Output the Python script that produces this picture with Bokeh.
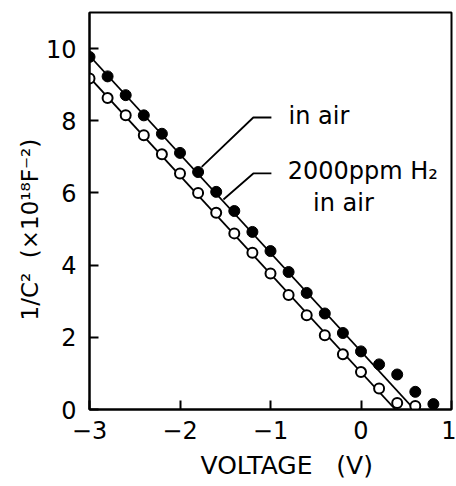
from bokeh.plotting import figure
from bokeh.models import Range1d, FixedTicker, Label, Title
from bokeh.embed import file_html
from bokeh.resources import INLINE

# ---- data ----
voltage_air = [-3.0, -2.8, -2.6, -2.4, -2.2, -2.0, -1.8, -1.6, -1.4, -1.2,
               -1.0, -0.8, -0.6, -0.4, -0.2, 0.0, 0.2, 0.4, 0.6, 0.8]
inv_c2_air = [9.77, 9.23, 8.71, 8.15, 7.64, 7.11, 6.58, 6.03, 5.50, 4.92,
              4.39, 3.81, 3.23, 2.66, 2.12, 1.61, 1.25, 0.97, 0.49, 0.15]

voltage_h2 = [-3.0, -2.8, -2.6, -2.4, -2.2, -2.0, -1.8, -1.6, -1.4, -1.2,
              -1.0, -0.8, -0.6, -0.4, -0.2, 0.0, 0.2, 0.4, 0.6]
inv_c2_h2 = [9.17, 8.63, 8.15, 7.60, 7.07, 6.54, 6.00, 5.45, 4.88, 4.34,
             3.77, 3.17, 2.61, 2.06, 1.53, 1.04, 0.58, 0.18, 0.10]

fit_air_x = [-3.0, 0.59]
fit_air_y = [9.80, 0.0]
fit_h2_x = [-3.0, 0.38]
fit_h2_y = [9.20, 0.0]

# annotation leader lines (data coordinates)
lead_air_x = [-1.76, -1.19, -0.99]
lead_air_y = [6.72, 8.09, 8.09]
lead_h2_x = [-1.52, -1.19, -0.99]
lead_h2_y = [5.82, 6.54, 6.54]

x_ticks = [-3, -2, -1, 0, 1]
x_tick_labels = ["\u22123", "\u22122", "\u22121", "0", "1"]
y_ticks = [0, 2, 4, 6, 8, 10]
y_tick_labels = ["0", "2", "4", "6", "8", "10"]

x_title = "VOLTAGE\u00a0\u00a0 (V)"
y_title = "1/C\u00b2\u00a0 (\u00d710\u00b9\u2078F\u207b\u00b2)"

FONT = "DejaVu Sans"

p = figure(width=456, height=486, output_backend="svg", toolbar_location=None,
           x_range=Range1d(-3, 1), y_range=Range1d(0, 11.0))
p.min_border_left = 89
p.min_border_right = 5
p.min_border_top = 12
p.min_border_bottom = 77
p.background_fill_color = "white"
p.border_fill_color = "white"
p.grid.visible = False
p.outline_line_color = "black"
p.outline_line_width = 2

for ax in (p.xaxis[0], p.yaxis[0]):
    ax.axis_line_color = "black"
    ax.axis_line_width = 2
    ax.major_tick_in = 9
    ax.major_tick_out = 0
    ax.major_tick_line_color = "black"
    ax.major_tick_line_width = 2
    ax.minor_tick_line_color = None
    ax.major_label_text_font = FONT
    ax.major_label_text_font_size = "24px"
    ax.major_label_text_color = "black"

p.xaxis.ticker = FixedTicker(ticks=x_ticks)
p.xaxis.major_label_overrides = dict(zip(x_ticks, x_tick_labels))
p.xaxis.major_label_standoff = 11
p.yaxis.ticker = FixedTicker(ticks=y_ticks)
p.yaxis.major_label_overrides = dict(zip(y_ticks, y_tick_labels))
p.yaxis.major_label_standoff = 13

# axis titles (placed to match the reference's off-centre positions)
p.add_layout(Title(text=x_title, text_font=FONT, text_font_size="25px",
                   text_font_style="normal", text_color="black",
                   align="left", offset=111, standoff=14), "below")
p.add_layout(Title(text=y_title, text_font=FONT, text_font_size="23px",
                   text_font_style="normal", text_color="black",
                   align="left", offset=89, standoff=0), "left")

# fitted lines
p.line(fit_air_x, fit_air_y, line_color="black", line_width=1.8)
p.line(fit_h2_x, fit_h2_y, line_color="black", line_width=1.8)

# data points
p.scatter(voltage_air, inv_c2_air, marker="circle", size=11,
          fill_color="black", line_color="black")
p.scatter(voltage_h2, inv_c2_h2, marker="circle", size=10,
          fill_color="white", line_color="black", line_width=2)

# annotations
p.line(lead_air_x, lead_air_y, line_color="black", line_width=1.8)
p.line(lead_h2_x, lead_h2_y, line_color="black", line_width=1.8)

for x, y, t in [(-0.80, 8.12, "in air"),
                (-0.81, 6.60, "2000ppm H\u2082"),
                (-0.53, 5.71, "in air")]:
    p.add_layout(Label(x=x, y=y, text=t, text_font=FONT, text_font_size="24px",
                       text_baseline="middle", text_align="left",
                       text_color="black"))

open("out.html", "w").write(file_html(p, INLINE))
